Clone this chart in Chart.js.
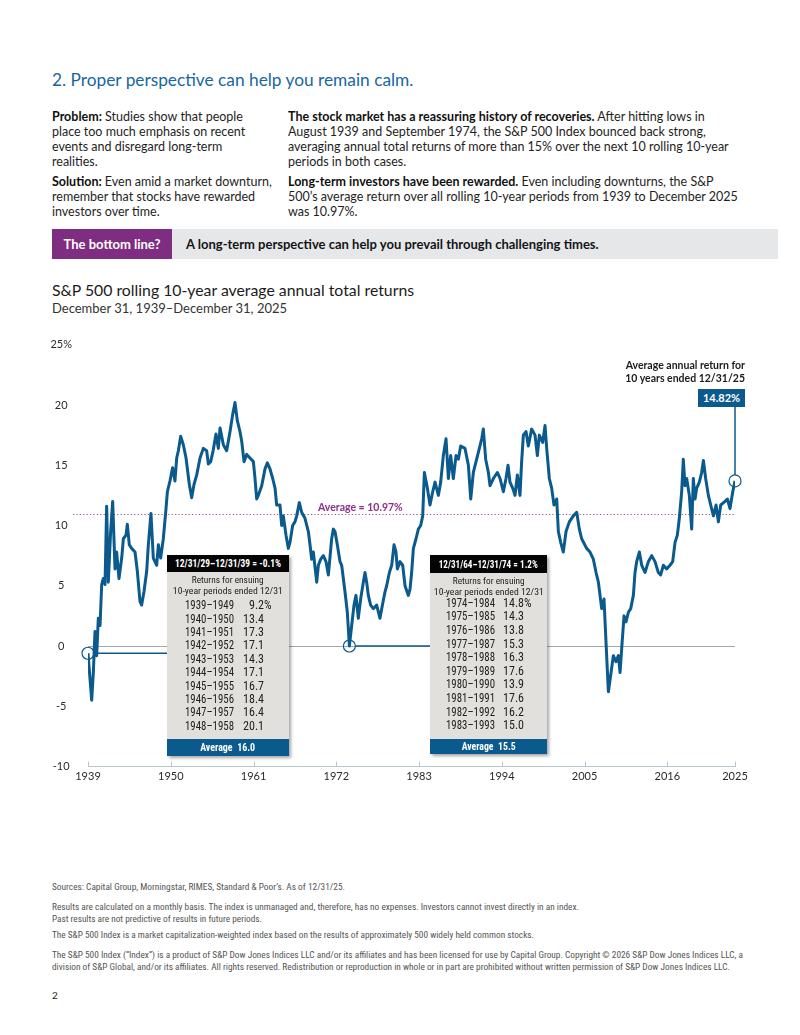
<!DOCTYPE html>
<html>
<head>
<meta charset="utf-8">
<script src="https://cdn.jsdelivr.net/npm/chart.js@4.4.1/dist/chart.umd.min.js"></script>
<style>
  html, body { margin: 0; padding: 0; background: #fff; }
  body { width: 800px; height: 1035px; position: relative; overflow: hidden;
         font-family: Lato, "Noto Sans", sans-serif; color: #1a1a1a; }
  .abs { position: absolute; white-space: nowrap; }
  .h1 { left: 52px; top: 69px; font-size: 17.3px; line-height: 21px; color: #17679f; }
  .para { font-size: 12.5px; line-height: 15px; color: #1e1e1e; }
  .para b { font-weight: 700; color: #111; }
  .bar { left: 52px; top: 229px; width: 726px; height: 30px; background: #e5e7e9; }
  .bar .tag { position: absolute; left: 0; top: 0; width: 120px; height: 30px; background: #7e2d80;
              color: #fff; font-weight: 700; font-size: 13px; line-height: 30px; text-align: center; }
  .bar .msg { position: absolute; left: 134px; top: 0; font-weight: 700; font-size: 13px; line-height: 30px; color: #151515; }
  .title { left: 52px; top: 280px; font-size: 15.8px; line-height: 19px; color: #1b1b1b; }
  .subtitle { left: 52px; top: 299.5px; font-size: 13px; line-height: 17px; color: #333; }
  #chartBox { position: absolute; left: 0; top: 330px; }
  .cond { font-family: "Liberation Sans Narrow", "Roboto Condensed", "DejaVu Sans Condensed", Roboto, sans-serif;
          font-stretch: condensed; display: inline-block; }
  .foot { left: 52px; font-size: 9.5px; line-height: 12px; color: #555; }
  .callout { position: absolute; background: #e2e0dd; box-shadow: 2px 2px 3px rgba(0,0,0,0.35); overflow: hidden; }
  .callout .hd { position: absolute; left: 0; right: 0; top: 0; background: #050505; color: #fff;
                 font-weight: 700; font-size: 10px; text-align: center; }
  .callout .sub { position: absolute; left: 0; right: 0; top: 20px; text-align: center; font-size: 9px; line-height: 9.5px; color: #222; }
  .callout .row { position: absolute; left: 0; right: 0; height: 13px; line-height: 13px; font-size: 12px; color: #222; }
  .callout .yr { position: absolute; top: 0; }
  .callout .val { position: absolute; top: 0; text-align: right; }
  .callout .pct { position: absolute; left: 100%; top: 0; }
  .callout .ft { position: absolute; left: 0; right: 0; bottom: 0; background: #0b5a8e; color: #fff;
                 font-weight: 700; font-size: 10px; text-align: center; }
  .avgLabel { left: 318px; top: 500px; font-size: 10.5px; line-height: 14px; font-weight: 700; color: #8d2f87; }
  .endNote { right: 55px; top: 359px; font-size: 10.5px; line-height: 13px; font-weight: 700; color: #1b1b1b; text-align: right; }
  .endBox { left: 698px; top: 389px; width: 47px; height: 18px; background: #0b5a8e; color: #fff;
            font-size: 11px; font-weight: 700; line-height: 18px; text-align: center; }
</style>
</head>
<body>

<div class="abs h1">2. Proper perspective can help you remain calm.</div>

<div class="abs para" style="left:52px; top:108.5px;"><b>Problem:</b> Studies show that people<br>place too much emphasis on recent<br>events and disregard long-term<br>realities.</div>
<div class="abs para" style="left:52px; top:173.5px;"><b>Solution:</b> Even amid a market downturn,<br>remember that stocks have rewarded<br>investors over time.</div>
<div class="abs para" style="left:288px; top:108.5px;"><b>The stock market has a reassuring history of recoveries.</b> After hitting lows in<br>August 1939 and September 1974, the S&amp;P 500 Index bounced back strong,<br>averaging annual total returns of more than 15% over the next 10 rolling 10-year<br>periods in both cases.</div>
<div class="abs para" style="left:288px; top:173.5px;"><b>Long-term investors have been rewarded.</b> Even including downturns, the S&amp;P<br>500’s average return over all rolling 10-year periods from 1939 to December 2025<br>was 10.97%.</div>

<div class="abs bar"><div class="tag">The bottom line?</div><div class="msg">A long-term perspective can help you prevail through challenging times.</div></div>

<div class="abs title">S&amp;P 500 rolling 10-year average annual total returns</div>
<div class="abs subtitle">December 31, 1939–December 31, 2025</div>

<canvas id="chartBox" width="800" height="470"></canvas>

<div class="abs avgLabel">Average = 10.97%</div>
<div class="abs endNote">Average annual return for<br>10 years ended 12/31/25</div>
<div class="abs endBox">14.82%</div>

<div id="callouts"></div>

<div class="abs foot" style="top:881px;"><span class="cond" data-w="293">Sources: Capital Group, Morningstar, RIMES, Standard &amp; Poor’s. As of 12/31/25.</span></div>
<div class="abs foot" style="top:901px;"><span class="cond" data-w="527">Results are calculated on a monthly basis. The index is unmanaged and, therefore, has no expenses. Investors cannot invest directly in an index.</span></div>
<div class="abs foot" style="top:913px;"><span class="cond" data-w="210">Past results are not predictive of results in future periods.</span></div>
<div class="abs foot" style="top:929px;"><span class="cond" data-w="482">The S&amp;P 500 Index is a market capitalization-weighted index based on the results of approximately 500 widely held common stocks.</span></div>
<div class="abs foot" style="top:949px;"><span class="cond" data-w="691">The S&amp;P 500 Index (“Index”) is a product of S&amp;P Dow Jones Indices LLC and/or its affiliates and has been licensed for use by Capital Group. Copyright © 2026 S&amp;P Dow Jones Indices LLC, a</span></div>
<div class="abs foot" style="top:961px;"><span class="cond" data-w="678">division of S&amp;P Global, and/or its affiliates. All rights reserved. Redistribution or reproduction in whole or in part are prohibited without written permission of S&amp;P Dow Jones Indices LLC.</span></div>
<div class="abs" style="left:52px; top:989px; font-size:10px; line-height:12px; color:#222;">2</div>

<script>
const { Chart } = window;

// rolling 10-year returns (decimal year, %)
const lineYears = [
  1939.00, 1939.49, 1939.71, 1939.93, 1940.15, 1940.37, 1940.60, 1940.82, 1941.04, 1941.26,
  1941.48, 1941.70, 1942.01, 1942.28, 1942.59, 1942.81, 1943.12, 1943.48, 1943.70, 1944.05,
  1944.23, 1944.49, 1944.80, 1945.25, 1945.56, 1945.91, 1946.13, 1946.44, 1946.80, 1947.02,
  1947.37, 1947.68, 1948.13, 1948.35, 1948.66, 1949.01, 1949.37, 1949.55, 1949.90, 1950.25,
  1950.56, 1950.79, 1951.01, 1951.32, 1951.67, 1952.03, 1952.47, 1952.78, 1953.09, 1953.45,
  1953.89, 1954.33, 1954.77, 1955.00, 1955.31, 1955.66, 1956.01, 1956.32, 1956.55, 1956.99,
  1957.43, 1957.88, 1958.23, 1958.54, 1958.85, 1959.20, 1959.43, 1959.74, 1960.09, 1960.53,
  1960.98, 1961.20, 1961.42, 1961.64, 1962.09, 1962.53, 1962.84, 1963.19, 1963.55, 1963.86,
  1964.08, 1964.52, 1964.74, 1964.96, 1965.32, 1965.63, 1965.85, 1966.20, 1966.51, 1966.74,
  1967.09, 1967.40, 1967.84, 1968.29, 1968.51, 1968.73, 1968.95, 1969.40, 1969.62, 1969.93,
  1970.28, 1970.64, 1970.95, 1971.39, 1971.61, 1971.83, 1972.14, 1972.50, 1972.72, 1973.16,
  1973.47, 1973.74, 1974.05, 1974.36, 1974.62, 1974.93, 1975.24, 1975.60, 1975.82, 1976.04,
  1976.26, 1976.57, 1976.93, 1977.37, 1977.81, 1978.04, 1978.48, 1978.70, 1979.06, 1979.37,
  1979.68, 1979.94, 1980.12, 1980.47, 1980.83, 1981.14, 1981.58, 1981.80, 1982.02, 1982.25,
  1982.60, 1982.91, 1983.22, 1983.49, 1983.71, 1984.11, 1984.46, 1984.82, 1985.13, 1985.57,
  1985.88, 1986.23, 1986.59, 1986.90, 1987.21, 1987.56, 1987.92, 1988.23, 1988.54, 1989.11,
  1989.56, 1989.87, 1990.22, 1990.66, 1991.02, 1991.33, 1991.55, 1991.86, 1992.22, 1992.44,
  1992.88, 1993.41, 1993.77, 1994.21, 1994.56, 1994.83, 1995.09, 1995.45, 1995.76, 1996.07,
  1996.42, 1996.64, 1996.87, 1997.22, 1997.53, 1997.97, 1998.42, 1998.73, 1998.99, 1999.44,
  1999.75, 1999.97, 2000.32, 2000.63, 2000.94, 2001.30, 2001.52, 2001.83, 2002.18, 2002.54,
  2002.98, 2003.51, 2003.96, 2004.31, 2004.62, 2005.28, 2005.73, 2006.17, 2006.53, 2006.84,
  2007.06, 2007.28, 2007.59, 2007.81, 2007.94, 2008.17, 2008.48, 2008.83, 2009.18, 2009.50,
  2009.72, 2009.94, 2010.25, 2010.51, 2010.83, 2011.14, 2011.49, 2011.71, 2011.93, 2012.29,
  2012.60, 2013.04, 2013.48, 2013.93, 2014.37, 2014.81, 2015.12, 2015.48, 2015.92, 2016.36,
  2016.72, 2017.03, 2017.34, 2017.60, 2017.91, 2018.13, 2018.36, 2018.58, 2018.93, 2019.24,
  2019.46, 2019.69, 2019.91, 2020.26, 2020.57, 2020.80, 2021.10, 2021.46, 2021.77, 2022.13,
  2022.48, 2022.79, 2023.10, 2023.68, 2023.99, 2024.34, 2024.70, 2025.00
];
const lineReturns = [
  -0.6, -4.5, -2.2, 1.2, -0.8, 2.3, 1.7, 5.1, 5.6, 5.1,
  11.6, 5.3, 9.5, 12.0, 6.4, 7.8, 5.6, 7.3, 8.9, 9.2,
  10.1, 8.4, 8.1, 7.8, 6.2, 3.7, 3.4, 4.5, 6.2, 8.4,
  11.0, 7.3, 6.7, 8.4, 7.3, 8.9, 11.4, 12.8, 13.7, 14.8,
  13.7, 15.6, 16.2, 17.4, 16.7, 15.6, 13.4, 12.3, 13.4, 14.2,
  15.6, 16.4, 16.2, 15.1, 15.3, 16.3, 17.6, 16.4, 18.1, 16.7,
  16.2, 17.8, 19.2, 20.2, 18.7, 17.8, 17.0, 15.3, 15.9, 15.6,
  15.3, 13.9, 12.2, 12.5, 13.3, 14.7, 15.2, 14.7, 13.9, 13.1,
  11.7, 11.7, 10.0, 10.8, 9.2, 8.1, 8.6, 10.0, 10.3, 10.8,
  11.9, 11.1, 10.6, 9.5, 8.4, 7.2, 7.8, 5.3, 6.7, 7.2,
  7.5, 7.0, 5.9, 8.9, 9.7, 9.5, 8.4, 7.0, 6.7, 4.5,
  2.8, 0.0, 1.7, 3.4, 4.2, 2.3, 3.9, 5.3, 6.1, 5.3,
  4.2, 3.4, 3.1, 3.4, 2.3, 3.1, 4.5, 5.0, 6.1, 6.7,
  8.4, 7.8, 6.4, 7.0, 6.7, 5.0, 4.2, 4.7, 6.1, 8.1,
  8.9, 9.7, 10.0, 10.8, 14.4, 13.1, 11.7, 12.8, 13.6, 12.5,
  13.6, 15.8, 17.2, 13.9, 15.8, 13.9, 15.8, 15.5, 16.6, 16.4,
  15.0, 12.2, 14.4, 15.5, 16.4, 17.2, 18.0, 15.5, 14.4, 13.3,
  13.9, 14.4, 13.9, 12.8, 13.9, 15.0, 13.6, 13.1, 12.5, 14.2,
  12.5, 15.3, 17.5, 17.8, 16.6, 18.0, 17.5, 15.8, 17.5, 16.9,
  18.3, 16.4, 13.9, 13.1, 11.7, 12.2, 9.5, 8.6, 7.8, 9.5,
  10.3, 10.8, 11.1, 9.7, 8.9, 8.1, 7.8, 7.2, 6.1, 5.3,
  4.2, 3.1, 3.9, 0.9, -0.8, -3.8, -2.4, -0.8, -1.3, -0.8,
  -2.2, -0.2, 2.5, 2.0, 2.8, 3.1, 4.2, 6.1, 7.0, 7.8,
  6.7, 6.1, 7.0, 7.5, 7.0, 6.1, 5.9, 6.7, 6.4, 6.7,
  7.0, 8.6, 9.2, 10.6, 12.8, 15.5, 13.3, 13.9, 12.5, 9.7,
  13.9, 12.2, 13.1, 13.6, 14.4, 15.4, 13.9, 12.5, 11.7, 10.8,
  11.7, 10.3, 11.7, 12.0, 12.2, 11.4, 12.8, 13.7
];

// circled points: lows of 1939 and 1974, and the latest period
const markerYears = [1939, 1973.74, 2025];
const markerReturns = [-0.6, 0.0, 13.7];

const averageReturn = 10.97;
const xTickYears = [1939, 1950, 1961, 1972, 1983, 1994, 2005, 2016, 2025];
const yTickValues = [-10, -5, 0, 5, 10, 15, 20, 25];

const leftHeader = '12/31/29–12/31/39 = -0.1%';
const leftPeriods = ['1939–1949', '1940–1950', '1941–1951', '1942–1952', '1943–1953',
  '1944–1954', '1945–1955', '1946–1956', '1947–1957', '1948–1958'];
const leftReturns = [9.2, 13.4, 17.3, 17.1, 14.3, 17.1, 16.7, 18.4, 16.4, 20.1];
const leftAverage = 16.0;

const rightHeader = '12/31/64–12/31/74 = 1.2%';
const rightPeriods = ['1974–1984', '1975–1985', '1976–1986', '1977–1987', '1978–1988',
  '1979–1989', '1980–1990', '1981–1991', '1982–1992', '1983–1993'];
const rightReturns = [14.8, 14.3, 13.8, 15.3, 16.3, 17.6, 13.9, 17.6, 16.2, 15.0];
const rightAverage = 15.5;

const LINE_BLUE = '#0b5a8e';
const LEFT_BOX_X = 167;
const RIGHT_BOX_X = 430;
const END_BOX_BOTTOM = 407;

const buildCallout = (box, header, periods, values, average) => {
  const el = document.createElement('div');
  el.className = 'callout';
  Object.assign(el.style, {
    left: `${box.left}px`, top: `${box.top}px`, width: `${box.width}px`, height: `${box.height}px`,
  });
  let html = `<div class="hd" style="height:${box.hd}px;line-height:${box.hd}px;"><span class="cond" data-w="${box.hdW}" data-c="1">${header}</span></div>`;
  html += `<div class="sub" style="top:${box.subTop}px;"><span class="cond" data-w="${box.subW1}" data-c="1">Returns for ensuing</span><br><span class="cond" data-w="${box.subW2}" data-c="1">10-year periods ended 12/31</span></div>`;
  periods.forEach((p, i) => {
    const top = box.rowTop + i * box.rowStep - 6.5;
    const pct = i === 0 ? '<span class="pct">%</span>' : '';
    html += `<div class="row" style="top:${top}px;"><span class="yr cond" data-w="49" style="left:${box.yrX}px;">${p}</span>`
      + `<span class="val cond" style="right:${box.width - box.valX}px;">${values[i].toFixed(1)}${pct}</span></div>`;
  });
  html += `<div class="ft" style="height:${box.ft}px;line-height:${box.ft}px;"><span class="cond" data-w="${box.ftW}" data-c="1">Average&nbsp;&nbsp;${average.toFixed(1)}</span></div>`;
  el.innerHTML = html;
  document.getElementById('callouts').appendChild(el);
};

buildCallout({ left: LEFT_BOX_X, top: 555, width: 122, height: 201, hd: 17, hdW: 106, subTop: 20, subW1: 72, subW2: 110,
  rowTop: 50.7, rowStep: 13.4, yrX: 18, valX: 97, ft: 17, ftW: 55 }, leftHeader, leftPeriods, leftReturns, leftAverage);
buildCallout({ left: RIGHT_BOX_X, top: 555, width: 117, height: 199, hd: 18, hdW: 99, subTop: 21, subW1: 72, subW2: 110,
  rowTop: 48.3, rowStep: 13.6, yrX: 16, valX: 94, ft: 15, ftW: 54 }, rightHeader, rightPeriods, rightReturns, rightAverage);

// squeeze the condensed texts to the widths they have in the print layout
document.querySelectorAll('[data-w]').forEach((el) => {
  const w = el.getBoundingClientRect().width;
  const target = Number(el.dataset.w);
  if (w > 0) {
    el.style.transformOrigin = el.dataset.c ? 'center center' : 'left center';
    el.style.transform = `scaleX(${target / w})`;
  }
});

const overlayPlugin = {
  id: 'overlays',
  beforeDatasetsDraw(chart) {
    const { ctx, chartArea, scales: { x, y } } = chart;
    ctx.save();
    // zero line
    const y0 = Math.round(y.getPixelForValue(0)) + 0.5;
    ctx.strokeStyle = '#a7a7a7';
    ctx.lineWidth = 1;
    ctx.beginPath();
    ctx.moveTo(chartArea.left, y0);
    ctx.lineTo(chartArea.right, y0);
    ctx.stroke();
    // average line
    const ya = Math.round(y.getPixelForValue(averageReturn)) + 0.5;
    ctx.strokeStyle = '#9a4a95';
    ctx.setLineDash([1.2, 2.2]);
    ctx.beginPath();
    ctx.moveTo(chartArea.left - 15, ya);
    ctx.lineTo(chartArea.right, ya);
    ctx.stroke();
    ctx.setLineDash([]);
    // upward tick marks on the date axis
    ctx.strokeStyle = '#b7c6cc';
    xTickYears.forEach((v) => {
      const px = Math.round(x.getPixelForValue(v)) + 0.5;
      ctx.beginPath();
      ctx.moveTo(px, chartArea.bottom);
      ctx.lineTo(px, chartArea.bottom - 5);
      ctx.stroke();
    });
    ctx.restore();
  },
  afterDatasetsDraw(chart) {
    const { ctx, scales: { x, y } } = chart;
    const canvasTop = chart.canvas.offsetTop;
    const pts = markerYears.map((v, i) => ({ x: x.getPixelForValue(v), y: y.getPixelForValue(markerReturns[i]) }));
    ctx.save();
    ctx.strokeStyle = LINE_BLUE;
    ctx.lineWidth = 1.5;
    ctx.beginPath();
    ctx.moveTo(pts[0].x + 6, pts[0].y);
    ctx.lineTo(LEFT_BOX_X, pts[0].y);
    ctx.moveTo(pts[1].x + 6, pts[1].y);
    ctx.lineTo(RIGHT_BOX_X, pts[1].y);
    ctx.moveTo(pts[2].x, pts[2].y - 6);
    ctx.lineTo(pts[2].x, END_BOX_BOTTOM - canvasTop);
    ctx.stroke();
    ctx.restore();
  },
};

new Chart(document.getElementById('chartBox').getContext('2d'), {
  type: 'line',
  data: {
    datasets: [
      {
        data: markerYears.map((v, i) => ({ x: v, y: markerReturns[i] })),
        showLine: false,
        pointRadius: 6,
        pointBorderWidth: 1.2,
        pointBorderColor: LINE_BLUE,
        pointBackgroundColor: 'rgba(255,255,255,0)',
        clip: false,
      },
      {
        data: lineYears.map((v, i) => ({ x: v, y: lineReturns[i] })),
        borderColor: LINE_BLUE,
        borderWidth: 3,
        borderJoinStyle: 'round',
        pointRadius: 0,
        tension: 0,
      },
    ],
  },
  options: {
    responsive: false,
    animation: false,
    devicePixelRatio: 1,
    layout: { padding: { left: 30, right: 65, top: 14.75, bottom: 0 } },
    plugins: { legend: { display: false }, tooltip: { enabled: false } },
    scales: {
      x: {
        type: 'linear',
        min: 1939,
        max: 2025,
        afterBuildTicks: (scale) => { scale.ticks = xTickYears.map((v) => ({ value: v })); },
        afterFit: (scale) => {
          scale.height = 33.5;
          scale.paddingLeft = 0;
          scale.paddingRight = 0;
        },
        grid: { display: false, drawTicks: false },
        border: { display: true, color: '#b7c6cc', width: 1 },
        ticks: {
          autoSkip: false,
          maxRotation: 0,
          padding: 3,
          color: '#2a2a2a',
          font: { family: 'Lato', size: 11 },
          callback: (v) => String(v),
        },
      },
      y: {
        min: -10,
        max: 25,
        afterBuildTicks: (scale) => { scale.ticks = yTickValues.map((v) => ({ value: v })); },
        afterFit: (scale) => {
          scale.width = 58;
          scale.paddingTop = 0;
          scale.paddingBottom = 0;
        },
        grid: { display: false, drawTicks: false },
        border: { display: false },
        ticks: {
          crossAlign: 'center',
          padding: 16,
          color: '#2a2a2a',
          font: { family: 'Lato', size: 11 },
          callback: (v) => (v === 25 ? '25%' : String(v)),
        },
      },
    },
  },
  plugins: [overlayPlugin],
});
</script>
</body>
</html>
